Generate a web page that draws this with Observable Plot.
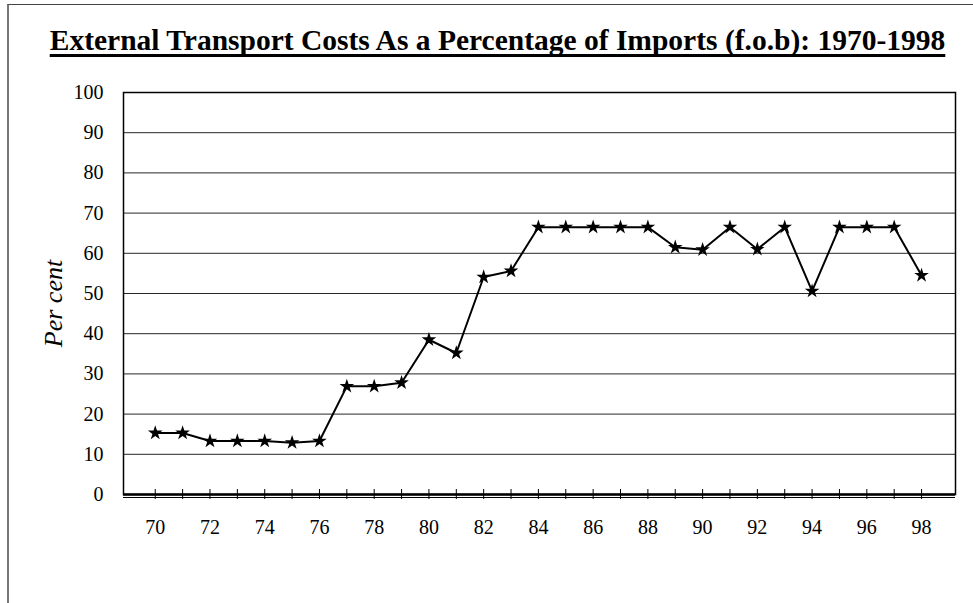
<!DOCTYPE html>
<html>
<head>
<meta charset="utf-8">
<script src="https://cdn.jsdelivr.net/npm/d3@7"></script>
<script src="https://cdn.jsdelivr.net/npm/@observablehq/plot@0.6"></script>
<style>
  html, body { margin: 0; padding: 0; background: white; }
  #wrap { position: relative; width: 973px; height: 603px; overflow: hidden; font-family: "Liberation Serif", "Times New Roman", serif; }
  #border { position: absolute; left: 7px; top: 4px; width: 980px; height: 640px; border-left: 2px solid #777; border-top: 1.5px solid #444; }
  #title { position: absolute; top: 26px; left: 0; width: 973px; text-align: center; font-weight: bold; font-size: 29.5px; line-height: 29px; text-decoration: underline; text-decoration-thickness: 3px; text-underline-offset: 4px; text-decoration-skip-ink: none; transform: translateX(11px); white-space: nowrap; }
  #chart { position: absolute; left: 0; top: 75px; }
</style>
</head>
<body>
<div id="wrap">
  <div id="border"></div>
  <div id="title">External Transport Costs As a Percentage of Imports (f.o.b): 1970-1998</div>
  <div id="chart"></div>
</div>
<script>
const years = [70, 71, 72, 73, 74, 75, 76, 77, 78, 79, 80, 81, 82, 83, 84, 85, 86, 87, 88, 89, 90, 91, 92, 93, 94, 95, 96, 97, 98];
const percent = [15.3, 15.3, 13.3, 13.3, 13.3, 12.9, 13.3, 26.9, 26.9, 27.8, 38.5, 35.2, 54.1, 55.6, 66.5, 66.5, 66.5, 66.5, 66.5, 61.5, 60.9, 66.5, 61.0, 66.5, 50.6, 66.5, 66.5, 66.5, 54.5];
const xTickLabels = [70, 72, 74, 76, 78, 80, 82, 84, 86, 88, 90, 92, 94, 96, 98];
const yTicks = [0, 10, 20, 30, 40, 50, 60, 70, 80, 90, 100];
const gridValues = [10, 20, 30, 40, 50, 60, 70, 80, 90];
const yLabel = "Per cent";

const data = years.map((y, i) => ({year: y, value: percent[i]}));

const chart = Plot.plot({
  width: 973,
  height: 528,
  marginLeft: 123,
  marginRight: 18,
  marginTop: 17,
  marginBottom: 109,
  style: {background: "transparent", fontFamily: "Liberation Serif, Times New Roman, serif", fontSize: "20px", color: "black", overflow: "visible"},
  x: {type: "linear", domain: [68.84, 99.24]},
  y: {type: "linear", domain: [0, 100]},
  marks: [
    Plot.ruleY(gridValues, {stroke: "black", strokeWidth: 1, strokeOpacity: 0.85}),
    Plot.frame({stroke: "black", strokeWidth: 1.5}),
    Plot.ruleY([0], {stroke: "black", strokeWidth: 2.5}),
    Plot.ruleY([0], {stroke: "black", strokeWidth: 1, dy: 3}),
    Plot.ruleX(years, {x: d => d, y1: 0, y2: 0, insetTop: -5, insetBottom: -5, stroke: "black", strokeWidth: 1}),
    Plot.axisX(xTickLabels, {tickSize: 0, tickPadding: 25, tickFormat: d => String(d), fontSize: 20, label: null}),
    Plot.axisY(yTicks, {tickSize: 0, tickPadding: 20, tickFormat: d => String(d), fontSize: 20, label: null}),
    Plot.text([yLabel], {frameAnchor: "left", textAnchor: "middle", dx: -70, dy: 10, rotate: -90, fontSize: 26, fontStyle: "italic", fill: "black"}),
    Plot.line(data, {x: "year", y: "value", stroke: "black", strokeWidth: 2}),
    Plot.dot(data, {x: "year", y: "value", symbol: "star", r: 4.6, fill: "black", stroke: "none"})
  ]
});
document.getElementById("chart").appendChild(chart);
</script>
</body>
</html>
